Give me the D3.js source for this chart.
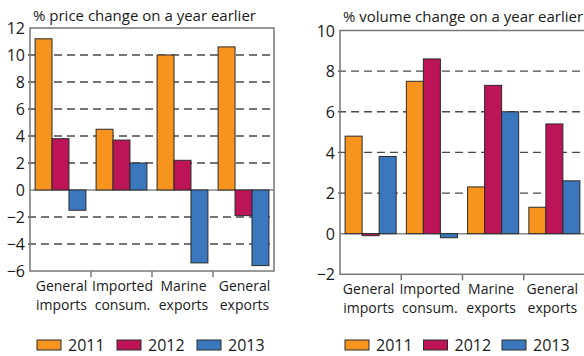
<!DOCTYPE html>
<html>
<head>
<meta charset="utf-8">
<script src="https://cdn.jsdelivr.net/npm/d3@7"></script>
<style>
  html, body { margin: 0; padding: 0; background: #fff; }
  svg { display: block; }
  text { font-family: "Open Sans", "Noto Sans", sans-serif; fill: #1a1a1a; }
</style>
</head>
<body>
<svg id="chart" width="584" height="356"></svg>
<script>
// Categories (two-line labels) and series years
const categories = ["General imports", "Imported consum.", "Marine exports", "General exports"];
const categoryLines = [["General", "imports"], ["Imported", "consum."], ["Marine", "exports"], ["General", "exports"]];
const years = ["2011", "2012", "2013"];

// Price change, % on a year earlier
const price2011 = [11.2, 4.5, 10.0, 10.6];
const price2012 = [3.8, 3.7, 2.2, -1.9];
const price2013 = [-1.5, 2.0, -5.4, -5.6];

// Volume change, % on a year earlier
const volume2011 = [4.8, 7.5, 2.3, 1.3];
const volume2012 = [-0.1, 8.6, 7.3, 5.4];
const volume2013 = [3.8, -0.2, 6.0, 2.6];

// Axis ticks
const priceTicks = [-6, -4, -2, 0, 2, 4, 6, 8, 10, 12];
const volumeTicks = [-2, 0, 2, 4, 6, 8, 10];

const colors = ["#F7941D", "#BC1457", "#3A77BD"];

const svg = d3.select("#chart");

function drawPanel(opt) {
  const g = svg.append("g");
  const x = d3.scaleBand().domain(categories).range([opt.left, opt.right]).paddingInner(0).paddingOuter(0);
  const xs = d3.scaleBand().domain(years).range([0, x.bandwidth()]).paddingOuter(0.3).paddingInner(0);
  const y = d3.scaleLinear().domain(opt.domain).range([opt.bottom, opt.top]);

  // dashed gridlines
  g.append("g").selectAll("line")
    .data(opt.ticks.filter(t => t !== 0 && t !== opt.domain[0] && t !== opt.domain[1]))
    .join("line")
    .attr("x1", opt.left - 2).attr("x2", opt.right)
    .attr("y1", d => y(d)).attr("y2", d => y(d))
    .attr("stroke", "#4a4a4a").attr("stroke-width", 1.3)
    .attr("stroke-dasharray", "8,5");

  // zero line
  g.append("line")
    .attr("x1", opt.left).attr("x2", opt.right)
    .attr("y1", y(0)).attr("y2", y(0))
    .attr("stroke", "#888").attr("stroke-width", 1.5);

  // bars
  const rows = categories.map((c, i) => ({ c, vals: opt.series.map((s, k) => ({ year: years[k], v: s[i], k })) }));
  g.append("g").selectAll("g")
    .data(rows).join("g")
    .attr("transform", d => `translate(${x(d.c)},0)`)
    .selectAll("rect")
    .data(d => d.vals).join("rect")
    .attr("x", d => xs(d.year))
    .attr("width", xs.bandwidth())
    .attr("y", d => y(Math.max(0, d.v)))
    .attr("height", d => Math.abs(y(d.v) - y(0)))
    .attr("fill", d => colors[d.k])
    .attr("stroke", "#2a2a2a").attr("stroke-width", 1);

  // frame
  g.append("rect")
    .attr("x", opt.left).attr("y", opt.top)
    .attr("width", opt.right - opt.left).attr("height", opt.bottom - opt.top)
    .attr("fill", "none").attr("stroke", "#777").attr("stroke-width", 1.5);

  // y axis labels
  const yAxis = d3.axisLeft(y).tickValues(opt.ticks).tickSize(0).tickPadding(5).tickFormat(d3.format("d"));
  const ya = g.append("g").attr("transform", `translate(${opt.left},0)`).call(yAxis);
  ya.select(".domain").remove();
  ya.selectAll("text").attr("font-size", 16).attr("font-family", "Open Sans, sans-serif").attr("fill", "#1a1a1a").attr("dy", "0.35em");

  // category separator ticks
  g.append("g").selectAll("line")
    .data(categories.slice(1))
    .join("line")
    .attr("x1", d => x(d)).attr("x2", d => x(d))
    .attr("y1", opt.bottom).attr("y2", opt.bottom + 6)
    .attr("stroke", "#777").attr("stroke-width", 1.5);

  // category labels
  const lab = g.append("g").selectAll("text")
    .data(categories).join("text")
    .attr("x", d => x(d) + x.bandwidth() / 2 + opt.labelShift)
    .attr("y", opt.bottom + 19.5)
    .attr("text-anchor", "middle")
    .attr("font-size", 14);
  lab.selectAll("tspan")
    .data((d, i) => categoryLines[i])
    .join("tspan")
    .attr("x", function () { return d3.select(this.parentNode).attr("x"); })
    .attr("dy", (d, i) => i === 0 ? 0 : 19)
    .text(d => d);

  // title
  g.append("text")
    .attr("x", opt.left + 3).attr("y", opt.titleY)
    .attr("font-size", 15)
    .text(opt.title);

  // legend
  const lg = g.append("g").selectAll("g")
    .data(years).join("g")
    .attr("transform", (d, i) => `translate(${opt.legendX + i * opt.legendStep},340)`);
  lg.append("rect")
    .attr("width", 24).attr("height", 10)
    .attr("fill", (d, i) => colors[i])
    .attr("stroke", "#2a2a2a").attr("stroke-width", 1);
  lg.append("text")
    .attr("x", 31).attr("y", 10.5)
    .attr("font-size", 16)
    .text(d => d);
}

drawPanel({
  left: 30, right: 274, top: 28, bottom: 271,
  domain: [-6, 12], ticks: priceTicks,
  series: [price2011, price2012, price2013],
  title: "% price change on a year earlier", titleY: 21,
  legendX: 37, legendStep: 80, labelShift: 1
});

drawPanel({
  left: 340, right: 585, top: 30.5, bottom: 274.3,
  domain: [-2, 10], ticks: volumeTicks,
  series: [volume2011, volume2012, volume2013],
  title: "% volume change on a year earlier", titleY: 22,
  legendX: 345, legendStep: 78.5, labelShift: -2
});
</script>
</body>
</html>
